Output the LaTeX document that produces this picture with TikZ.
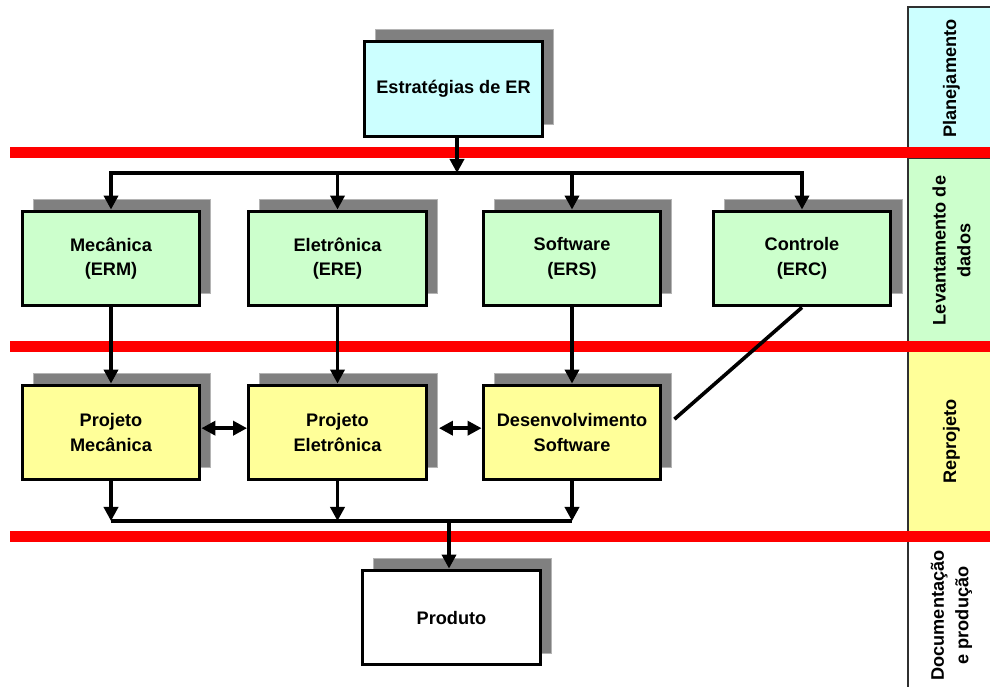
\documentclass[tikz,border=0pt]{standalone}
\usepackage{fontspec}
\setmainfont{Liberation Sans}
\usetikzlibrary{arrows.meta,shadows}

\definecolor{cyanfill}{HTML}{CCFFFF}
\definecolor{greenfill}{HTML}{CCFFCC}
\definecolor{yellowfill}{HTML}{FFFF99}
\definecolor{shadowgray}{HTML}{808080}
\definecolor{shadowedge}{HTML}{B4B4B4}
\definecolor{barred}{HTML}{FF0000}
\definecolor{laneedge}{HTML}{303030}

\begin{document}
\begin{tikzpicture}[x=0.03cm, y=-0.03cm,
  every node/.style={font=\bfseries\fontsize{15.5}{21}\selectfont, text=black},
  box/.style={draw=black, line width=2.7pt, minimum width=5.33cm,
    minimum height=2.84cm, inner sep=0pt, align=center,
    general shadow={fill=shadowgray, draw=shadowedge, line width=0.6pt,
      shadow xshift=0.33cm, shadow yshift=0.36cm}},
  lane/.style={draw=laneedge, line width=1.2pt, inner sep=0pt,
    align=center, rotate=90, minimum height=2.61cm},
  conn/.style={draw=black, line width=3.1pt},
  tip/.tip={Triangle[width=12pt,length=12pt]},
  arr/.style={conn, -tip},
  dbl/.style={conn, tip-tip},
  phasebar/.style={draw=barred, line width=9.4pt}
]
% page area
\fill[white] (0,0) rectangle (990,686);
\useasboundingbox (0,0) rectangle (990,686);

% phase column on the right
\node[lane, fill=cyanfill,   minimum width=4.29cm] (plan) at (951.5,78.5)  {Planejamento};
\node[lane, fill=greenfill,  minimum width=5.55cm] (lev)  at (951.5,250.5) {Levantamento de\\dados};
\node[lane, fill=yellowfill, minimum width=5.49cm] (rep)  at (951.5,441.5) {Reprojeto};
\node[lane, fill=white,      minimum width=4.47cm] (doc)  at (951.5,615.5) {Documentação\\e produção};

% red phase separators
\draw[phasebar] (10,152.5) -- (995,152.5);
\draw[phasebar] (10,346.5) -- (995,346.5);
\draw[phasebar] (10,536)   -- (995,536);

% boxes
\node[box, fill=cyanfill]   (es)   at (453.5,89)    {Estratégias de ER};
\node[box, fill=greenfill]  (mec)  at (111,258.5)   {Mecânica\\(ERM)};
\node[box, fill=greenfill]  (ele)  at (337.5,258.5) {Eletrônica\\(ERE)};
\node[box, fill=greenfill]  (sof)  at (572,258.5)   {Software\\(ERS)};
\node[box, fill=greenfill]  (con)  at (802,258.5)   {Controle\\(ERC)};
\node[box, fill=yellowfill] (pm)   at (111,432.5)   {Projeto\\Mecânica};
\node[box, fill=yellowfill] (pe)   at (337.5,432.5) {Projeto\\Eletrônica};
\node[box, fill=yellowfill] (ds)   at (572,432.5)   {Desenvolvimento\\Software};
\node[box, fill=white]      (prod) at (451.5,617.5) {Produto};

% junction points
\coordinate (split) at (457,173);
\coordinate (join)  at (449,521);

% distribution from the strategy box
\draw[arr] (es.south -| split) -- (split);
\draw[arr] (split) -| (mec);
\draw[arr] (split) -| (ele);
\draw[arr] (split) -| (sof);
\draw[arr] (split) -| (con);

% requirements to redesign
\draw[arr] (mec) -- (pm);
\draw[arr] (ele) -- (pe);
\draw[arr] (sof) -- (ds);
\draw[conn] (con.south) -- ([xshift=0.36cm,yshift=0.4cm]ds.east);

% exchanges between redesign activities
\draw[dbl] ([yshift=0.13cm]pm.east) -- ([yshift=0.13cm]pe.west);
\draw[dbl] ([xshift=0.33cm,yshift=0.13cm]pe.east) -- ([yshift=0.13cm]ds.west);

% collection into the product
\draw[arr] (pm.south) -- (pm.south |- join);
\draw[arr] (pe.south) -- (pe.south |- join);
\draw[arr] (ds.south) -- (ds.south |- join);
\draw[conn] (pm.south |- join) -- (ds.south |- join);
\draw[arr] (join) -- (prod.north -| join);
\end{tikzpicture}
\end{document}
